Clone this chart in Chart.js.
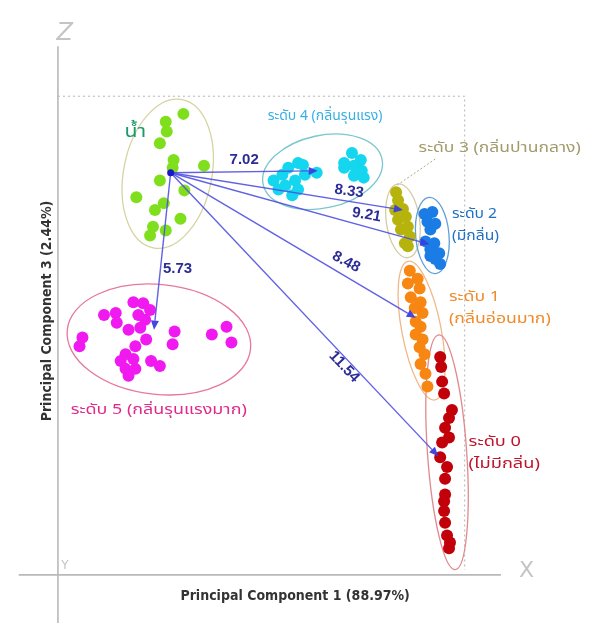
<!DOCTYPE html>
<html>
<head>
<meta charset="utf-8">
<script src="https://cdn.jsdelivr.net/npm/chart.js@4.4.1/dist/chart.umd.min.js"></script>
<style>
  html, body { margin: 0; padding: 0; background: #ffffff; }
  #wrap { width: 603px; height: 623px; }
  canvas { display: block; }
</style>
</head>
<body>
<div id="wrap"><canvas id="pca" width="603" height="623"></canvas></div>
<script>
// PCA scores [PC1, PC3] for each sample group
const waterScores = [
  [6.4, 23.5], [5.5, 23.1], [5.55, 22.6], [5.2, 22.0], [5.9, 21.15], [5.85, 20.75],
  [7.45, 20.85], [5.2, 20.1], [6.45, 19.6], [4.0, 19.25], [5.4, 18.95], [4.95, 18.6],
  [6.25, 18.15], [4.85, 17.75], [5.5, 17.55], [4.7, 17.3]
];
const level4Scores = [
  [11.0, 20.1], [11.45, 20.4], [11.75, 20.75], [12.25, 21.0], [12.5, 20.9], [11.6, 19.85],
  [12.1, 20.1], [11.25, 19.65], [11.95, 19.35], [12.6, 20.4], [12.25, 19.65], [13.2, 20.5],
  [15.0, 21.5], [15.45, 21.15], [14.6, 20.75], [15.1, 20.85], [15.5, 20.6], [15.1, 20.35],
  [15.6, 20.25], [14.6, 21.0]
];
const level3Scores = [
  [17.25, 19.5], [17.35, 19.1], [17.6, 18.65], [17.2, 18.6], [17.75, 18.25], [17.35, 18.1],
  [17.85, 17.75], [17.5, 17.6], [17.95, 17.25], [17.7, 16.9], [17.85, 16.75]
];
const level2Scores = [
  [18.7, 18.4], [19.1, 18.5], [18.85, 18.0], [19.25, 17.9], [19.0, 17.6], [18.75, 17.0],
  [19.2, 16.9], [19.0, 16.6], [19.45, 16.4], [19.25, 16.1], [19.5, 15.85], [19.0, 16.25]
];
const level1Scores = [
  [17.95, 15.5], [18.35, 15.1], [17.85, 14.85], [18.45, 14.6], [18.0, 14.15], [18.5, 13.9],
  [18.2, 13.6], [18.6, 13.35], [18.25, 12.9], [18.5, 12.65], [18.25, 12.25], [18.6, 12.0],
  [18.45, 11.6], [18.7, 11.25], [18.5, 10.75], [18.75, 10.25], [18.85, 9.6]
];
const level0Scores = [
  [19.5, 11.1], [19.55, 10.6], [19.6, 9.85], [19.7, 9.25], [20.1, 8.4], [19.95, 8.0],
  [19.75, 7.5], [19.95, 7.0], [19.6, 6.75], [19.5, 6.0], [19.85, 5.5], [19.75, 4.9],
  [19.75, 4.1], [19.7, 3.75], [19.7, 3.25], [19.75, 2.65], [19.85, 2.0], [20.0, 1.65],
  [19.95, 1.35]
];
const level5Scores = [
  [3.85, 13.9], [4.35, 13.85], [2.35, 13.25], [2.95, 13.35], [4.7, 13.5], [4.1, 13.25],
  [4.45, 13.0], [3.0, 12.85], [3.6, 12.5], [4.2, 12.6], [1.25, 12.1], [1.1, 11.65],
  [4.5, 12.0], [3.95, 11.65], [3.45, 11.25], [3.2, 10.9], [3.85, 11.0], [3.45, 10.5],
  [3.95, 10.5], [3.6, 10.15], [4.75, 10.9], [5.2, 10.65], [5.95, 12.4], [5.85, 11.75],
  [7.85, 12.25], [8.6, 12.65], [8.85, 11.85]
];

const groupNames = [
  'น้ำ',
  'ระดับ 4 (กลิ่นรุนแรง)',
  'ระดับ 3 (กลิ่นปานกลาง)',
  'ระดับ 2 (มีกลิ่น)',
  'ระดับ 1 (กลิ่นอ่อนมาก)',
  'ระดับ 0 (ไม่มีกลิ่น)',
  'ระดับ 5 (กลิ่นรุนแรงมาก)'
];

// group ellipses: centre [PC1, PC3], semi-axes [PC1, PC3], tilt in degrees
const ellipseCentres = [[5.6, 20.45], [13.5, 20.55], [17.6, 18.05], [19.1, 17.3], [18.55, 12.45], [19.85, 6.25], [5.15, 12.0]];
const ellipseAxes = [[2.25, 3.85], [3.1, 1.85], [0.85, 1.9], [0.85, 1.95], [1.0, 3.6], [1.0, 6.0], [4.7, 2.8]];
const ellipseTilt = [11, -12, -8, -5, -11, -4, 6];

// distances from the water centroid to each odour level
const waterCentroid = [5.75, 20.5];
const levelCentroids = [[13.25, 20.6], [17.6, 18.6], [18.95, 16.85], [18.25, 13.1], [19.4, 6.05], [4.9, 12.5]];
const distances = [7.02, 8.33, 9.21, 8.48, 11.54, 5.73];

const axisTitles = ['Principal Component 1 (88.97%)', 'Principal Component 3 (2.44%)'];
const axisLetters = ['X', 'Y', 'Z'];

// ---- presentation ----
const pointColours = ['#80df1c', '#14d6ee', '#b6b40c', '#1c7ce6', '#f78612', '#c2000a', '#f01af0'];
const ellipseColours = ['#d8d3a2', '#78c8cc', '#d4cca4', '#5f9ed6', '#f0b88a', '#e08a8e', '#e6789e'];
const labelColours = ['#1c9a6a', '#38b0e4', '#a39a6c', '#2070c6', '#f08a2a', '#c0142c', '#e02a8a'];
const labelFont = "14px 'Noto Sans Thai', 'Noto Sans', 'DejaVu Sans', sans-serif";
// label anchors (left edge, vertical middle) in score units, horizontal stretch of the lettering;
// multi-line labels wrap at the bracket
const labelAnchors = [
  { at: [3.4, 22.5], wrap: false, stretch: 1.25, size: 17 },
  { at: [10.7, 23.35], wrap: false, stretch: 1.0, size: 14 },
  { at: [18.4, 21.7], wrap: false, stretch: 1.25, size: 14 },
  { at: [20.1, 18.35], wrap: true, stretch: 1.12, size: 14 },
  { at: [19.95, 14.1], wrap: true, stretch: 1.26, size: 14 },
  { at: [20.95, 6.7], wrap: true, stretch: 1.3, size: 14 },
  { at: [0.65, 8.35], wrap: false, stretch: 1.28, size: 14 }
];
const distanceLabelPos = [
  { at: [9.5, 21.15], rot: 0 },
  { at: [14.85, 19.55], rot: 8 },
  { at: [15.75, 18.35], rot: 10 },
  { at: [14.7, 15.95], rot: 28 },
  { at: [14.6, 10.6], rot: 47 },
  { at: [6.1, 15.6], rot: 0 }
];
const level3Leader = [[19.25, 21.2], [17.2, 19.8]];

const allScores = [waterScores, level4Scores, level3Scores, level2Scores, level1Scores, level0Scores, level5Scores];

const datasets = allScores.map((pts, i) => ({
  label: groupNames[i],
  data: pts.map(p => ({ x: p[0], y: p[1] })),
  backgroundColor: pointColours[i],
  borderWidth: 0,
  pointRadius: 6,
  pointHoverRadius: 6
}));

const pcaDecor = {
  id: 'pcaDecor',
  beforeDatasetsDraw(chart) {
    const { ctx, scales: { x, y } } = chart;
    const X = v => x.getPixelForValue(v);
    const Y = v => y.getPixelForValue(v);
    ctx.save();

    // dotted plot frame (top and right)
    ctx.strokeStyle = '#b4b4b4';
    ctx.lineWidth = 1;
    ctx.setLineDash([2, 3]);
    ctx.beginPath();
    ctx.moveTo(X(0), Y(24.4));
    ctx.lineTo(X(20.75), Y(24.4));
    ctx.lineTo(X(20.75), Y(0.25));
    ctx.stroke();
    ctx.setLineDash([]);

    // axis lines through the origin
    ctx.strokeStyle = '#b9b9b9';
    ctx.lineWidth = 1.6;
    ctx.beginPath();
    ctx.moveTo(X(0), Y(26.95));
    ctx.lineTo(X(0), chart.height);
    ctx.moveTo(X(-2.0), Y(0));
    ctx.lineTo(X(22.6), Y(0));
    ctx.stroke();

    // axis letters
    ctx.fillStyle = '#c4c4c4';
    ctx.textAlign = 'center';
    ctx.textBaseline = 'middle';
    ctx.font = "italic 24px 'DejaVu Sans', sans-serif";
    ctx.fillText(axisLetters[2], X(0.35), Y(27.6));
    ctx.font = "22px 'DejaVu Sans', sans-serif";
    ctx.fillText(axisLetters[0], X(23.9), Y(0.2));
    ctx.font = "12px 'DejaVu Sans', sans-serif";
    ctx.fillText(axisLetters[1], X(0.35), Y(0.45));

    // group ellipses
    ctx.lineWidth = 1.3;
    ellipseCentres.forEach((c, i) => {
      const cx = X(c[0]), cy = Y(c[1]);
      const rx = X(c[0] + ellipseAxes[i][0]) - cx;
      const ry = cy - Y(c[1] + ellipseAxes[i][1]);
      ctx.strokeStyle = ellipseColours[i];
      ctx.beginPath();
      ctx.ellipse(cx, cy, rx, ry, ellipseTilt[i] * Math.PI / 180, 0, Math.PI * 2);
      ctx.stroke();
    });
    ctx.restore();
  },
  afterDatasetsDraw(chart) {
    const { ctx, scales: { x, y } } = chart;
    const X = v => x.getPixelForValue(v);
    const Y = v => y.getPixelForValue(v);
    ctx.save();

    // distance arrows from the water centroid
    const sx = X(waterCentroid[0]), sy = Y(waterCentroid[1]);
    ctx.strokeStyle = 'rgba(80, 80, 226, 0.9)';
    ctx.fillStyle = 'rgba(60, 60, 220, 0.95)';
    ctx.lineWidth = 1.4;
    levelCentroids.forEach(t => {
      const tx = X(t[0]), ty = Y(t[1]);
      const a = Math.atan2(ty - sy, tx - sx);
      const head = 9, half = 4;
      const bx = tx - head * Math.cos(a), by = ty - head * Math.sin(a);
      ctx.beginPath();
      ctx.moveTo(sx, sy);
      ctx.lineTo(bx, by);
      ctx.stroke();
      ctx.beginPath();
      ctx.moveTo(tx, ty);
      ctx.lineTo(bx + half * Math.sin(a), by - half * Math.cos(a));
      ctx.lineTo(bx - half * Math.sin(a), by + half * Math.cos(a));
      ctx.closePath();
      ctx.fill();
    });
    ctx.fillStyle = '#1818c8';
    ctx.beginPath();
    ctx.arc(sx, sy, 3.5, 0, Math.PI * 2);
    ctx.fill();

    // distance values
    ctx.fillStyle = '#2c2c96';
    ctx.font = "bold 15px 'Liberation Sans', 'DejaVu Sans', sans-serif";
    ctx.textAlign = 'center';
    ctx.textBaseline = 'middle';
    distances.forEach((d, i) => {
      const p = distanceLabelPos[i];
      ctx.save();
      ctx.translate(X(p.at[0]), Y(p.at[1]));
      ctx.rotate(p.rot * Math.PI / 180);
      ctx.fillText(d.toFixed(2), 0, 0);
      ctx.restore();
    });

    // leader line for level 3
    ctx.strokeStyle = '#b0a880';
    ctx.lineWidth = 1;
    ctx.setLineDash([2, 2]);
    ctx.beginPath();
    ctx.moveTo(X(level3Leader[0][0]), Y(level3Leader[0][1]));
    ctx.lineTo(X(level3Leader[1][0]), Y(level3Leader[1][1]));
    ctx.stroke();
    ctx.setLineDash([]);

    // group labels
    ctx.textAlign = 'left';
    ctx.textBaseline = 'middle';
    groupNames.forEach((name, i) => {
      const a = labelAnchors[i];
      ctx.fillStyle = labelColours[i];
      ctx.font = labelFont.replace('14px', a.size + 'px');
      let lines = [name];
      if (a.wrap) {
        const k = name.indexOf(' (');
        lines = [name.slice(0, k), name.slice(k + 1)];
      }
      ctx.save();
      ctx.translate(X(a.at[0]), Y(a.at[1]));
      ctx.scale(a.stretch, 1);
      lines.forEach((ln, j) => ctx.fillText(ln, 0, j * 22));
      ctx.restore();
    });

    // axis titles
    ctx.fillStyle = '#333333';
    ctx.font = "bold 14px 'Liberation Sans Narrow', 'DejaVu Sans Condensed', sans-serif";
    ctx.textAlign = 'center';
    ctx.fillText(axisTitles[0], X(12.1), Y(-1.1));
    ctx.save();
    ctx.translate(X(-0.55), Y(13.45));
    ctx.rotate(-Math.PI / 2);
    ctx.fillText(axisTitles[1], 0, 0);
    ctx.restore();

    ctx.restore();
  }
};

new Chart(document.getElementById('pca'), {
  type: 'scatter',
  data: { datasets },
  options: {
    responsive: false,
    animation: false,
    layout: { padding: 0 },
    plugins: { legend: { display: false }, tooltip: { enabled: false } },
    scales: {
      x: { type: 'linear', min: -2.65, max: 27.5, display: false },
      y: { type: 'linear', min: -2.15, max: 29.0, display: false }
    }
  },
  plugins: [pcaDecor]
});
</script>
</body>
</html>
